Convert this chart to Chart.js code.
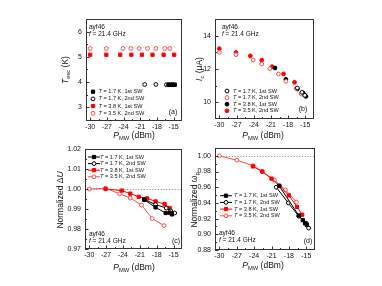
<!DOCTYPE html>
<html>
<head>
<meta charset="utf-8">
<script src="https://cdn.jsdelivr.net/npm/chart.js@4/dist/chart.umd.min.js"></script>
<style>
  body { margin: 0; background: #fff; width: 382px; height: 286px; position: relative; overflow: hidden; }
  canvas { position: absolute; }
</style>
</head>
<body>
<canvas id="ca" width="191" height="143" style="left:0;top:0"></canvas>
<canvas id="cb" width="204" height="143" style="left:178px;top:0"></canvas>
<canvas id="cc" width="191" height="143" style="left:0;top:143px"></canvas>
<canvas id="cd" width="204" height="143" style="left:178px;top:143px"></canvas>
<script>
// ---- data ----
const xTicks = [-30, -27, -24, -21, -18, -15];
const seriesNames = ['T = 1.7 K, 1st SW', 'T = 1.7 K, 2nd SW', 'T = 3.8 K, 1st SW', 'T = 3.5 K, 2nd SW'];

// (a) escape temperature
const aTicks = [3, 4, 5, 6];
const aBlk1X = [-15.9, -15.5, -15.2, -14.8];
const aBlk1Y = [3.89, 3.89, 3.89, 3.89];
const aBlk2X = [-20.2, -18.2, -16.3, -15.9, -15.4, -15.0];
const aBlk2Y = [3.9, 3.9, 3.89, 3.89, 3.89, 3.89];
const aRed1X = [-30, -27.1, -24.6, -22.6, -20.7, -18.8, -16.8, -14.9];
const aRed1Y = [5.08, 5.08, 5.08, 5.08, 5.08, 5.08, 5.08, 5.08];
const aRed2X = [-30, -27.1, -24.1, -22.7, -21.2, -19.7, -18.2, -16.6, -15.7];
const aRed2Y = [5.33, 5.33, 5.33, 5.33, 5.33, 5.33, 5.33, 5.33, 5.33];

// (b) fitted current
const bTicks = [10, 12, 14];
const bBlk1X = [-16.4, -15.6, -15.1];
const bBlk1Y = [10.86, 10.6, 10.42];
const bRed1X = [-30, -27.1, -24.1, -22.6, -21.2, -19.7, -18.4, -16.6, -15.7];
const bRed1Y = [13.0, 12.86, 12.54, 12.3, 12.02, 11.7, 11.26, 10.82, 10.5];
const bBlk2X = [-20.3, -18.4, -16.4, -15.4, -15.2, -14.9];
const bBlk2Y = [12.06, 11.38, 10.8, 10.56, 10.46, 10.36];
const bRed2X = [-30, -27.1, -24.6, -22.6, -20.8, -18.8, -16.9];
const bRed2Y = [13.22, 12.99, 12.79, 12.53, 12.14, 11.71, 11.2];

// (c) normalized barrier
const cTicks = [0.97, 0.98, 0.99, 1.00, 1.01, 1.02];
const cBlk1X = [-20.2, -18.2, -16.4, -15.7, -15.3];
const cBlk1Y = [0.9946, 0.9908, 0.988, 0.9882, 0.9873];
const cBlk2X = [-20.2, -18.2, -16.3, -15.5, -14.8];
const cBlk2Y = [0.9948, 0.9922, 0.9905, 0.989, 0.988];
const cRed1X = [-27.1, -24.2, -22.7, -21.2, -19.7, -18.2, -16.6, -15.7];
const cRed1Y = [1.000, 0.9992, 0.9977, 0.9961, 0.9953, 0.9938, 0.9925, 0.9905];
const cRed2X = [-30, -27.1, -24.6, -22.7, -20.7, -18.8, -16.7];
const cRed2Y = [1.000, 1.0004, 0.9976, 0.9955, 0.992, 0.9852, 0.9817];

// (d) normalized plasma frequency
const dTicks = [0.88, 0.90, 0.92, 0.94, 0.96, 0.98, 1.00];
const dBlk1X = [-19.7, -16.3, -15.6, -15.2, -14.9];
const dBlk1Y = [0.962, 0.924, 0.918, 0.914, 0.912];
const dBlk2X = [-20.2, -18.1, -16.3, -15.0, -14.6];
const dBlk2Y = [0.960, 0.940, 0.923, 0.914, 0.908];
const dRed1X = [-24.2, -22.6, -21, -19.6, -18, -16.6, -15.7];
const dRed1Y = [0.9865, 0.980, 0.971, 0.9615, 0.9495, 0.935, 0.925];
const dRed2X = [-30, -27, -24.2, -22.6, -20.5, -18.6, -16.7];
const dRed2Y = [1.000, 0.9945, 0.9875, 0.980, 0.969, 0.9565, 0.941];

// ---- helpers ----
const FAM = '"Liberation Sans", Arial, sans-serif';
const RED = '#ff0000', RED2 = '#ff4a4a', BLK = '#000000';

const pts = (xs, ys) => xs.map((x, i) => ({ x: x, y: ys[i] }));

function ds(label, xs, ys, shape, color, open, line) {
  return {
    label: label,
    data: pts(xs, ys),
    pointStyle: shape,
    pointRadius: shape === 'rect' ? 2.3 : 1.9,
    pointBorderWidth: 1,
    pointBorderColor: color,
    pointBackgroundColor: open ? '#fff' : color,
    borderColor: color,
    borderWidth: 1,
    showLine: !!line
  };
}

function marker(ctx, d, x, y) {
  const r = d.pointRadius;
  ctx.fillStyle = d.pointBackgroundColor;
  ctx.strokeStyle = d.pointBorderColor;
  ctx.lineWidth = 1;
  ctx.beginPath();
  if (d.pointStyle === 'rect') {
    const s = r * Math.SQRT1_2;
    ctx.rect(x - s, y - s, 2 * s, 2 * s);
  } else {
    ctx.arc(x, y, r, 0, Math.PI * 2);
  }
  ctx.fill();
  ctx.stroke();
}

// segs: [text, 'n' normal | 'i' italic | 's' subscript]
function rich(ctx, segs, x, y, size, align) {
  const f = s => (s === 'i' ? 'italic ' : '') + (s === 's' ? size * 0.68 : size) + 'px ' + FAM;
  let w = 0;
  segs.forEach(([t, s]) => { ctx.font = f(s); w += ctx.measureText(t).width; });
  let cx = align === 'center' ? x - w / 2 : x;
  ctx.textAlign = 'left';
  ctx.textBaseline = 'middle';
  segs.forEach(([t, s]) => {
    ctx.font = f(s);
    ctx.fillText(t, cx, s === 's' ? y + size * 0.28 : y);
    cx += ctx.measureText(t).width;
  });
}

const legSegs = name => [[name.slice(0, 1), 'i'], [name.slice(1), 'n']];

const deco = {
  id: 'deco',
  beforeDatasetsDraw(chart, args, o) {
    if (o.ref == null) return;
    const { ctx, chartArea: a } = chart;
    const y = Math.round(chart.scales.y.getPixelForValue(o.ref)) + 0.5;
    ctx.save();
    ctx.strokeStyle = '#777';
    ctx.lineWidth = 0.8;
    ctx.setLineDash([1.2, 1.6]);
    ctx.beginPath();
    ctx.moveTo(a.left, y);
    ctx.lineTo(a.right, y);
    ctx.stroke();
    ctx.restore();
  },
  afterDraw(chart, args, o) {
    const { ctx, chartArea: a } = chart;
    const xs = chart.scales.x, ys = chart.scales.y;
    ctx.save();
    // frame + inward ticks
    ctx.strokeStyle = '#333';
    ctx.lineWidth = 1;
    ctx.strokeRect(a.left + 0.5, a.top + 0.5, a.right - a.left - 1, a.bottom - a.top - 1);
    ctx.beginPath();
    xs.ticks.forEach((t, i) => {
      const px = Math.round(xs.getPixelForValue(t.value)) + 0.5;
      ctx.moveTo(px, a.bottom); ctx.lineTo(px, a.bottom - 3.5);
      if (i < xs.ticks.length - 1) {
        const m = Math.round(xs.getPixelForValue((t.value + xs.ticks[i + 1].value) / 2)) + 0.5;
        ctx.moveTo(m, a.bottom); ctx.lineTo(m, a.bottom - 2);
      }
    });
    ys.ticks.forEach((t, i) => {
      const py = Math.round(ys.getPixelForValue(t.value)) + 0.5;
      ctx.moveTo(a.left, py); ctx.lineTo(a.left + 3.5, py);
      if (i < ys.ticks.length - 1) {
        const m = Math.round(ys.getPixelForValue((t.value + ys.ticks[i + 1].value) / 2)) + 0.5;
        ctx.moveTo(a.left, m); ctx.lineTo(a.left + 2, m);
      }
    });
    ctx.stroke();

    ctx.fillStyle = '#111';
    // axis titles
    rich(ctx, o.xTitle, o.xTitlePos[0], o.xTitlePos[1], 8.5, 'center');
    ctx.save();
    ctx.translate(o.yTitlePos[0], o.yTitlePos[1]);
    ctx.rotate(-Math.PI / 2);
    rich(ctx, o.yTitle, 0, 0, 8.5, 'center');
    ctx.restore();

    // notes
    ctx.fillStyle = '#111';
    rich(ctx, [['ayf46', 'n']], o.note[0], o.note[1], 6.5, 'left');
    rich(ctx, [['f', 'i'], [' = 21.4 GHz', 'n']], o.note[0], o.note[1] + 7, 6.5, 'left');
    rich(ctx, [[o.tag, 'n']], o.tagPos[0], o.tagPos[1], 7, 'center');

    // legend
    const L = o.legend;
    chart.data.datasets.forEach((d, i) => {
      const y = L.y + i * L.dy;
      if (L.line) {
        ctx.strokeStyle = d.borderColor;
        ctx.lineWidth = 1;
        ctx.beginPath();
        ctx.moveTo(L.x - 6, y);
        ctx.lineTo(L.x + 6, y);
        ctx.stroke();
      }
      marker(ctx, d, L.x, y);
      ctx.fillStyle = '#111';
      rich(ctx, legSegs(d.label), L.tx, y, 5.6, 'left');
    });
    ctx.restore();
  }
};

function makeChart(id, datasets, yMin, yMax, yTicks, dec, pad, opts) {
  return new Chart(document.getElementById(id), {
    type: 'scatter',
    data: { datasets: datasets },
    options: {
      responsive: false,
      animation: false,
      events: [],
      layout: { padding: pad },
      plugins: { legend: { display: false }, tooltip: { enabled: false }, deco: opts },
      scales: {
        x: {
          type: 'linear', min: -30.75, max: -13.5,
          afterBuildTicks: s => { s.ticks = xTicks.map(v => ({ value: v })); },
          afterFit: s => { s.height = 15; s.paddingLeft = 0; s.paddingRight = 0; },
          grid: { display: false, drawTicks: false },
          border: { display: false },
          ticks: { padding: 2, color: '#111', font: { size: 7, family: FAM }, callback: v => String(v), maxRotation: 0, autoSkip: false }
        },
        y: {
          type: 'linear', min: yMin, max: yMax,
          afterBuildTicks: s => { s.ticks = yTicks.map(v => ({ value: v })); },
          afterFit: s => { s.width = 24; s.paddingTop = 0; s.paddingBottom = 0; },
          grid: { display: false, drawTicks: false },
          border: { display: false },
          ticks: { padding: 4, color: '#111', font: { size: 7, family: FAM }, callback: v => v.toFixed(dec), autoSkip: false }
        }
      }
    },
    plugins: [deco]
  });
}

const pTitle = [['P', 'i'], ['MW', 's'], [' (dBm)', 'n']];

// (a)
makeChart('ca', [
  ds(seriesNames[0], aBlk1X, aBlk1Y, 'rect', BLK, false),
  ds(seriesNames[1], aBlk2X, aBlk2Y, 'circle', BLK, true),
  ds(seriesNames[2], aRed1X, aRed1Y, 'rect', RED, false),
  ds(seriesNames[3], aRed2X, aRed2Y, 'circle', RED2, true)
], 2.45, 6.5, aTicks, 0, { left: 62, right: 9, top: 19, bottom: 7 }, {
  xTitle: pTitle, xTitlePos: [134, 136],
  yTitle: [['T', 'i'], ['esc', 's'], [' (K)', 'n']], yTitlePos: [66, 70],
  note: [89, 27], tag: '(a)', tagPos: [173, 112],
  legend: { x: 93, tx: 98.5, y: 91.7, dy: 7.2, line: false }
});

// (b)
makeChart('cb', [
  ds(seriesNames[0], bBlk1X, bBlk1Y, 'circle', BLK, true),
  ds(seriesNames[1], bRed1X, bRed1Y, 'circle', RED2, true),
  ds(seriesNames[2], bBlk2X, bBlk2Y, 'circle', BLK, false),
  ds(seriesNames[3], bRed2X, bRed2Y, 'circle', RED, false)
], 9, 15, bTicks, 0, { left: 13, right: 68, top: 19, bottom: 9 }, {
  xTitle: pTitle, xTitlePos: [85, 136],
  yTitle: [['I', 'i'], ['c', 's'], [' (\u00b5A)', 'n']], yTitlePos: [22, 69],
  note: [44, 27.5], tag: '(b)', tagPos: [125, 109],
  legend: { x: 49, tx: 55, y: 91, dy: 6.6, line: false }
});

// (c)
makeChart('cc', [
  ds(seriesNames[0], cBlk1X, cBlk1Y, 'rect', BLK, false, true),
  ds(seriesNames[1], cBlk2X, cBlk2Y, 'circle', BLK, true, true),
  ds(seriesNames[2], cRed1X, cRed1Y, 'rect', RED, false, true),
  ds(seriesNames[3], cRed2X, cRed2Y, 'circle', RED2, true, true)
], 0.97, 1.02, cTicks, 2, { left: 61, right: 9, top: 6, bottom: 22 }, {
  xTitle: pTitle, xTitlePos: [134, 125],
  yTitle: [['Normalized \u0394', 'n'], ['U', 'i']], yTitlePos: [61, 57],
  note: [89, 91], tag: '(c)', tagPos: [176, 98],
  legend: { x: 94, tx: 100, y: 14, dy: 6.6, line: true },
  ref: 1
});

// (d)
makeChart('cd', [
  ds(seriesNames[0], dBlk1X, dBlk1Y, 'rect', BLK, false, true),
  ds(seriesNames[1], dBlk2X, dBlk2Y, 'circle', BLK, true, true),
  ds(seriesNames[2], dRed1X, dRed1Y, 'rect', RED, false, true),
  ds(seriesNames[3], dRed2X, dRed2Y, 'circle', RED2, true, true)
], 0.88, 1.01, dTicks, 2, { left: 13, right: 67, top: 5, bottom: 21 }, {
  xTitle: pTitle, xTitlePos: [85, 123],
  yTitle: [['Normalized \u03c9', 'n'], ['p', 's']], yTitlePos: [17, 57],
  note: [41, 90], tag: '(d)', tagPos: [130, 98],
  legend: { x: 48, tx: 56, y: 52.7, dy: 6.7, line: true },
  ref: 1
});
</script>
</body>
</html>
